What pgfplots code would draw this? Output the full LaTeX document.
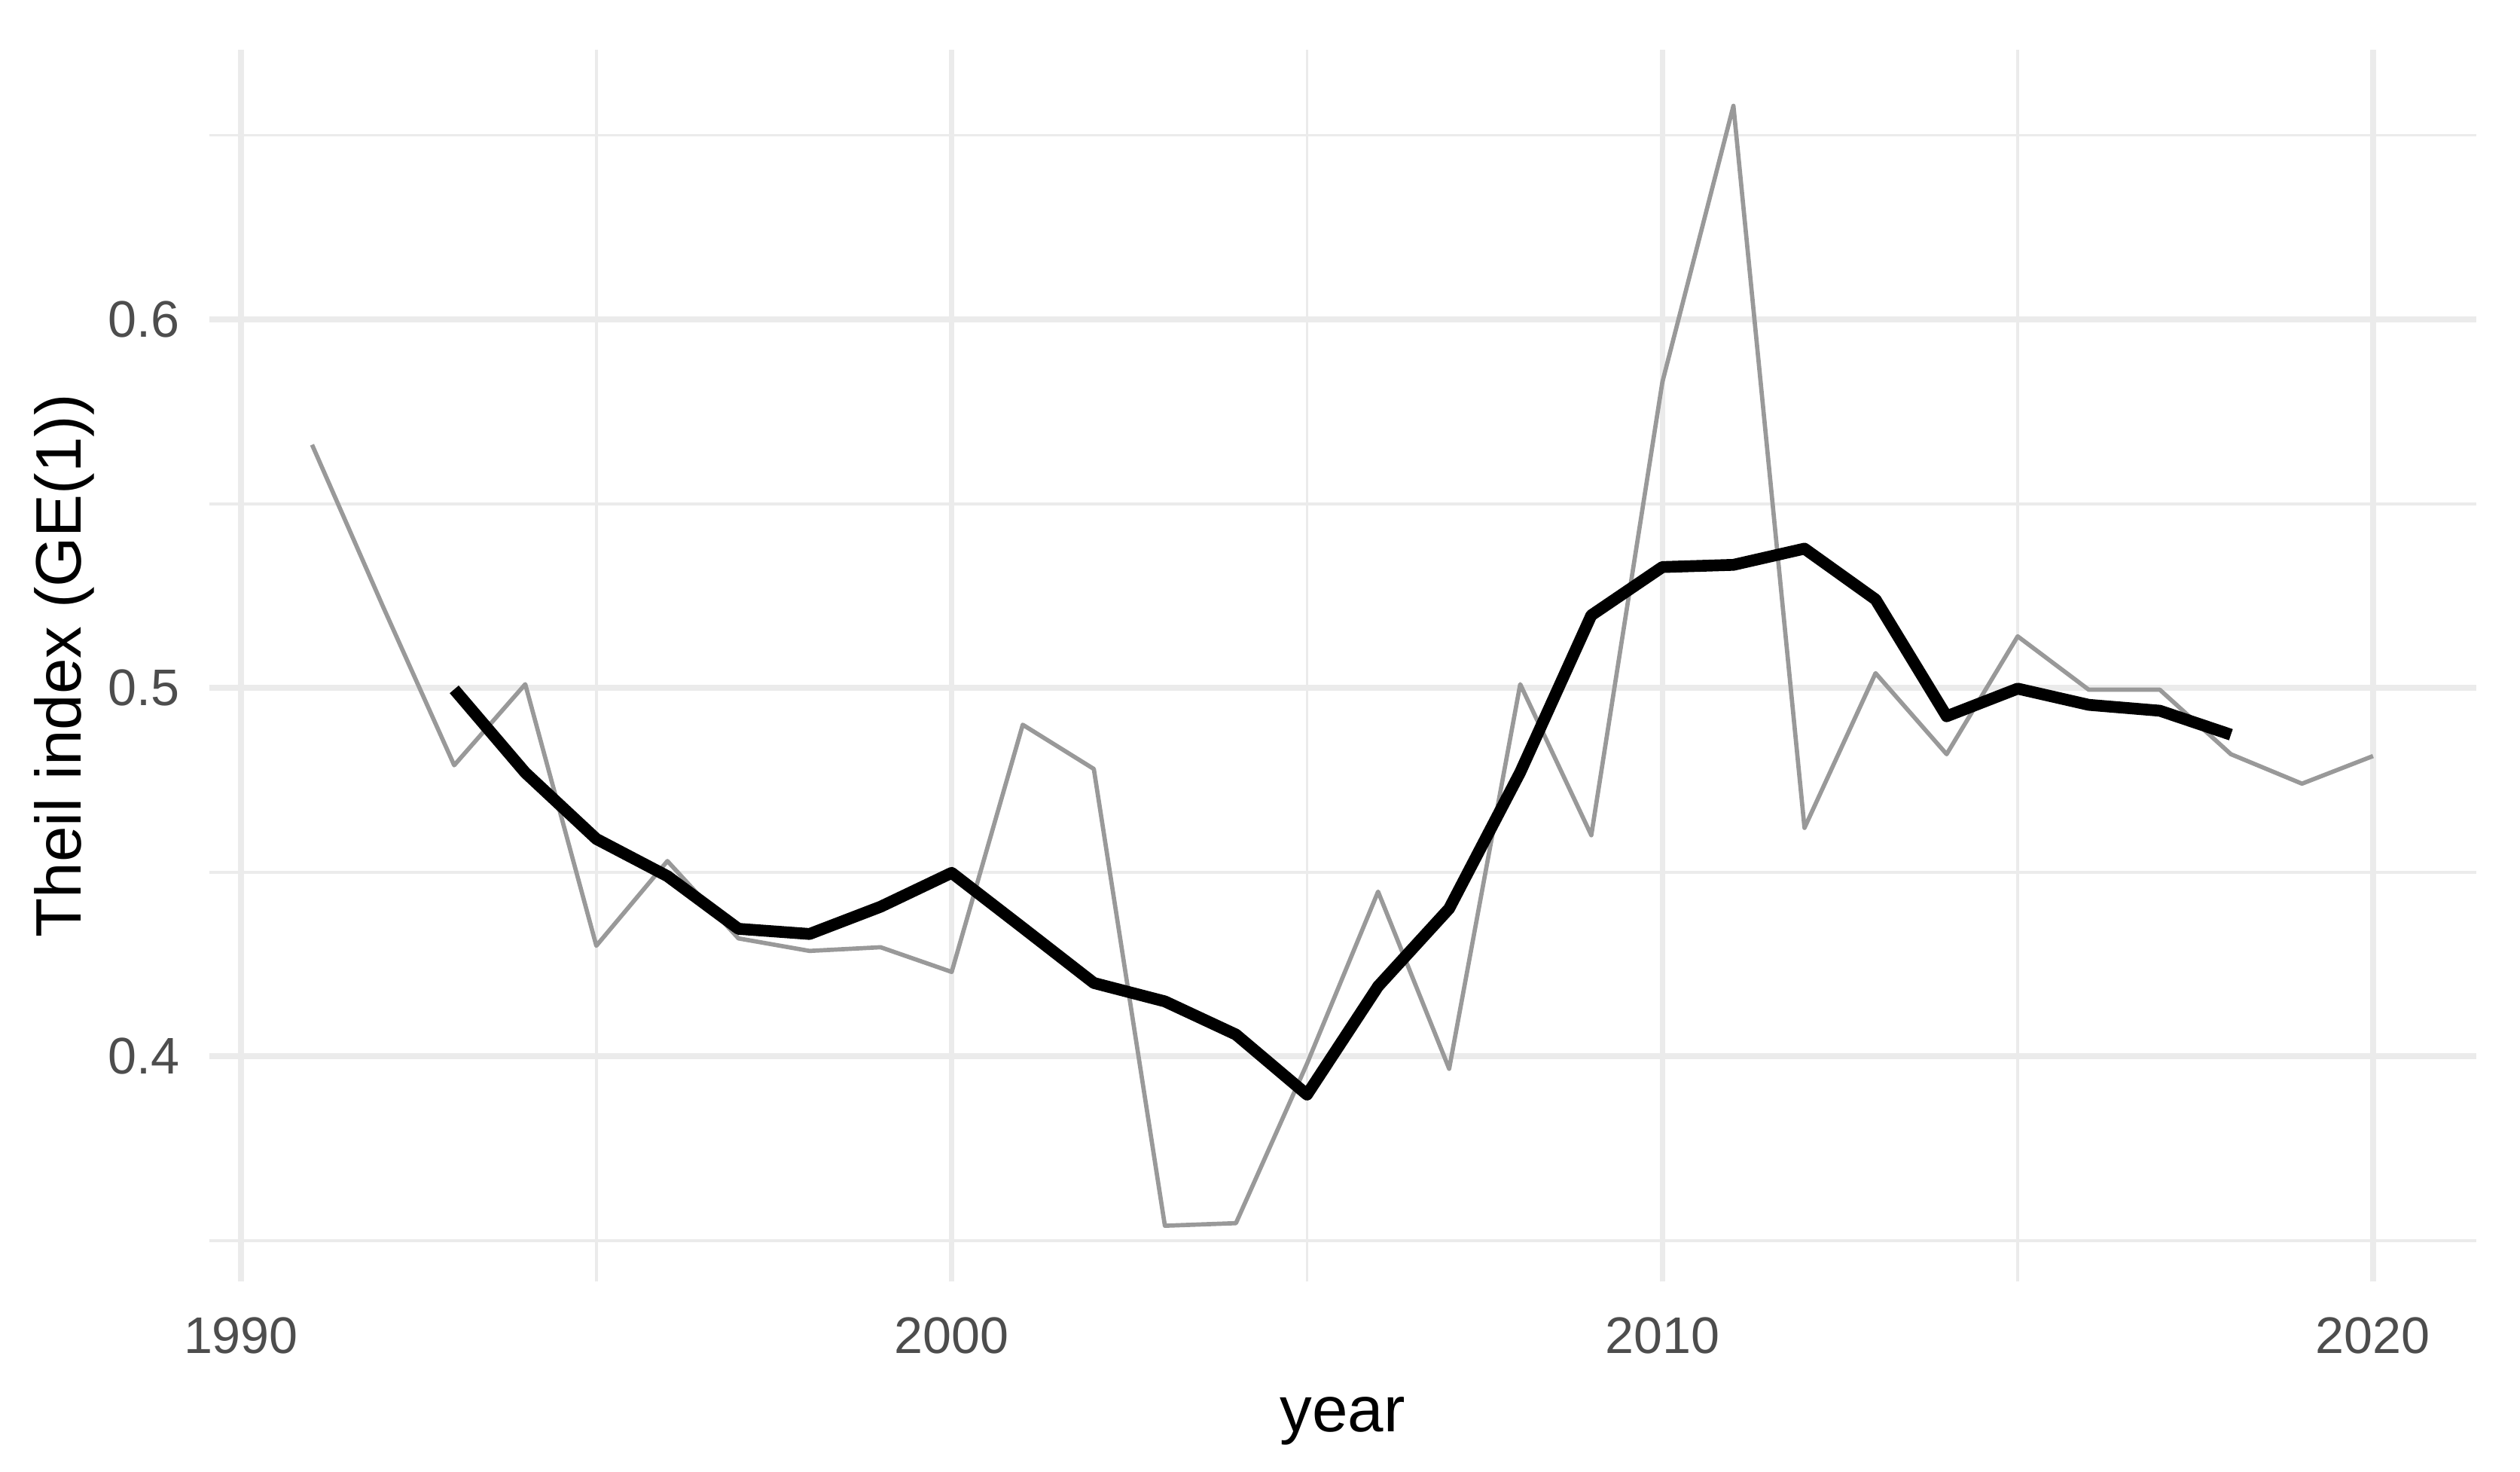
\documentclass[border=0pt]{standalone}
\usepackage{pgfplots}
\pgfplotsset{compat=1.18}
\usepackage{fontspec}
\setmainfont{Liberation Sans}

\definecolor{gridgray}{HTML}{EBEBEB}
\definecolor{ticktext}{HTML}{4D4D4D}
\definecolor{rawline}{HTML}{999999}

\begin{document}
\begin{tikzpicture}
\begin{axis}[
    scale only axis,
    width=423pt, height=229.8pt,
    xmin=1989.55, xmax=2021.45,
    ymin=0.3388, ymax=0.6732,
    xtick={1990,2000,2010,2020},
    minor xtick={1995,2005,2015},
    ytick={0.4,0.5,0.6},
    minor ytick={0.35,0.45,0.55,0.65},
    grid=both,
    major grid style={draw=gridgray, line width=1.05pt},
    minor grid style={draw=gridgray, line width=0.53pt},
    axis line style={draw=none},
    major tick length=0pt, minor tick length=0pt,
    x tick label style={/pgf/number format/1000 sep={}},
    y tick label style={/pgf/number format/fixed, /pgf/number format/precision=1},
    /pgf/number format/assume math mode=true,
    xticklabel style={font=\fontsize{9.6}{11}\selectfont, text=ticktext, anchor=center, yshift=-10pt},
    yticklabel style={font=\fontsize{9.6}{11}\selectfont, text=ticktext, anchor=east, xshift=-2pt},
    xlabel={year},
    ylabel={Theil index (GE(1))},
    label style={font=\fontsize{12}{14}\selectfont},
    xlabel style={at={(axis description cs:0.5,0)}, anchor=center, yshift=-26pt},
    ylabel style={at={(axis description cs:0,0.5)}, anchor=center, yshift=27pt},
    clip=false,
]
% yearly values
\addplot[rawline, line width=0.8pt, line join=round] coordinates {
    (1991,0.566) (1992,0.522) (1993,0.479) (1994,0.501) (1995,0.430)
    (1996,0.453) (1997,0.432) (1998,0.4286) (1999,0.4296) (2000,0.4229)
    (2001,0.490) (2002,0.478) (2003,0.354) (2004,0.3547) (2005,0.398)
    (2006,0.4447) (2007,0.3966) (2008,0.501) (2009,0.460) (2010,0.583)
    (2011,0.658) (2012,0.462) (2013,0.504) (2014,0.482) (2015,0.514)
    (2016,0.4995) (2017,0.4995) (2018,0.482) (2019,0.474) (2020,0.4815)
};
% 5-year moving average
\addplot[black, line width=2.2pt, line join=round] coordinates {
    (1993,0.4996) (1994,0.4770) (1995,0.4590) (1996,0.4489) (1997,0.4346)
    (1998,0.4332) (1999,0.4406) (2000,0.4498) (2001,0.4349) (2002,0.4199)
    (2003,0.4149) (2004,0.4059) (2005,0.3896) (2006,0.4190) (2007,0.4401)
    (2008,0.4771) (2009,0.5197) (2010,0.5328) (2011,0.5334) (2012,0.5378)
    (2013,0.5240) (2014,0.4923) (2015,0.4998) (2016,0.4954) (2017,0.4938)
    (2018,0.4873)
};
\coordinate (bl) at (rel axis cs:0,0);
\coordinate (tr) at (rel axis cs:1,1);
\end{axis}
\path (bl) ++(-39pt,-35.4pt) (tr) ++(8.2pt,9.3pt);
\end{tikzpicture}
\end{document}
